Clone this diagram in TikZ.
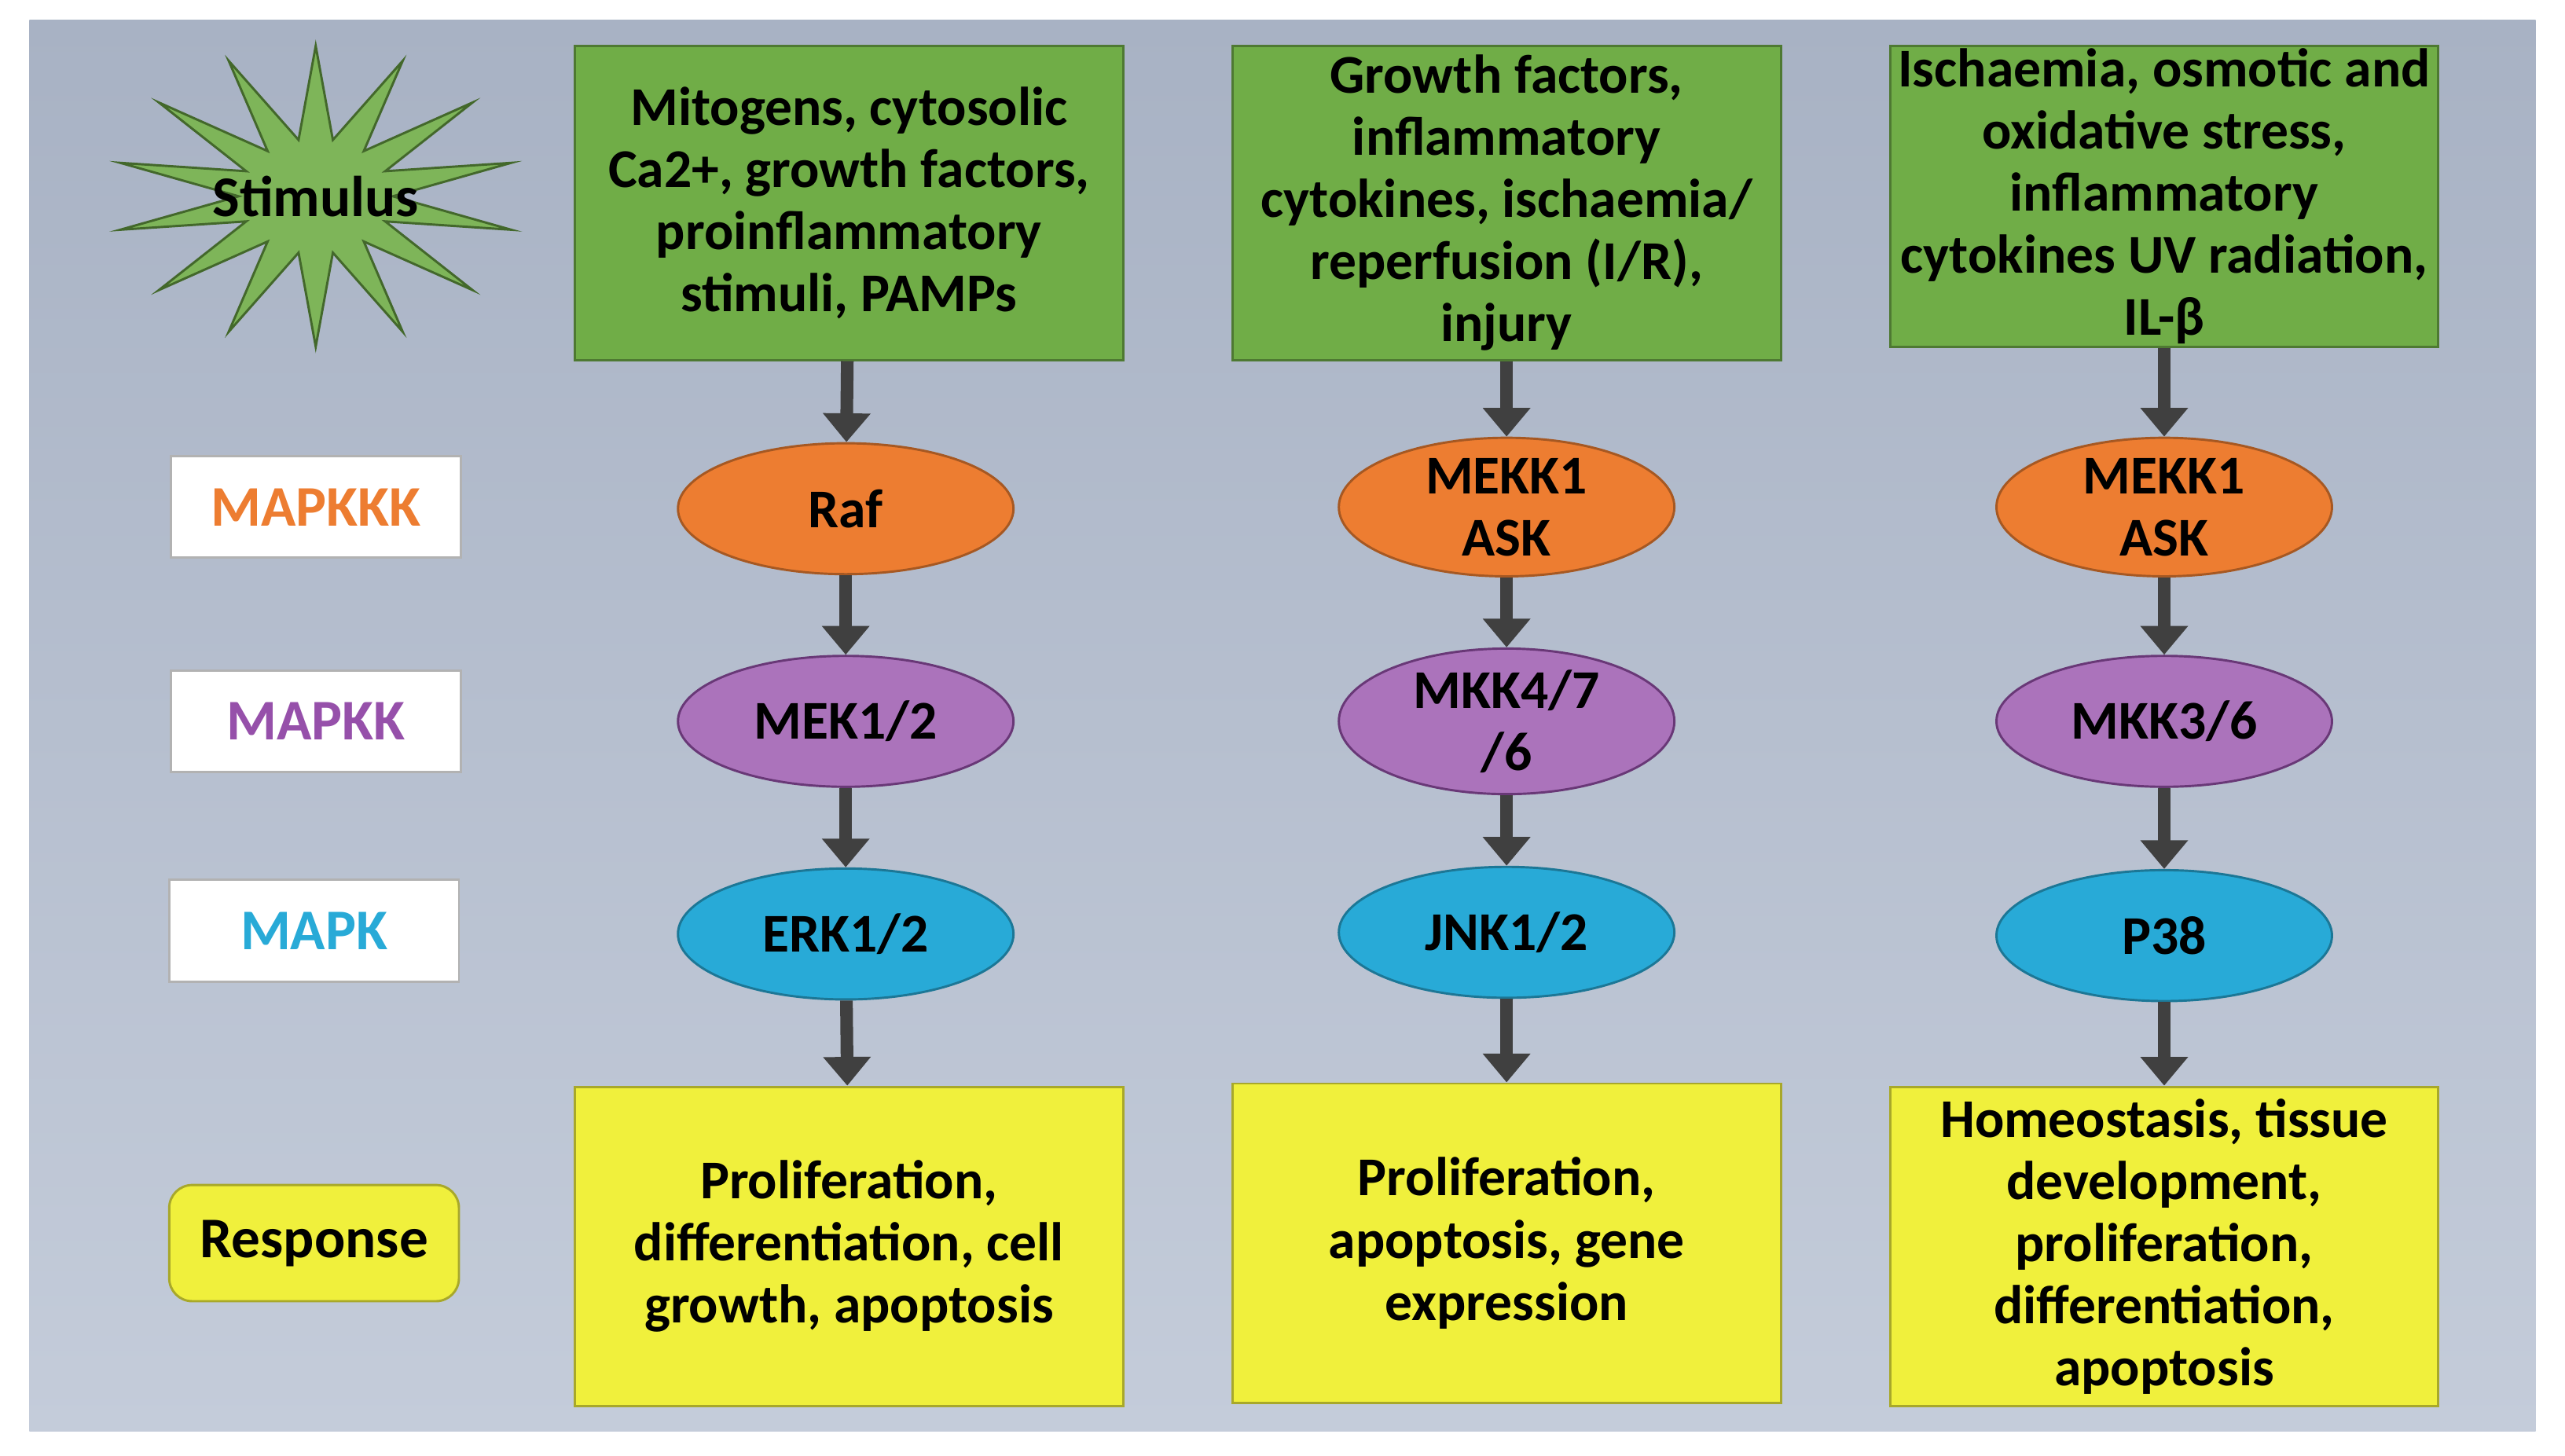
\documentclass[tikz,border=0pt]{standalone}
\usepackage{fontspec}
\setmainfont{Carlito}
\usetikzlibrary{shapes.geometric, arrows.meta}
\definecolor{bgtop}{RGB}{168,178,196}
\definecolor{bgbot}{RGB}{196,204,218}
\definecolor{boxgreen}{RGB}{112,173,71}
\definecolor{kkkorange}{RGB}{237,125,49}
\definecolor{kkpurple}{RGB}{150,80,170}
\definecolor{kblue}{RGB}{40,170,215}
\definecolor{respyellow}{RGB}{240,240,60}
\tikzset{
	txt/.style={font=\bfseries\fontsize{9.5}{10.8}\selectfont, align=center, text=black},
	stim/.style={txt, draw=boxgreen!70!black, fill=boxgreen, minimum width=3.35cm, minimum height=1.92cm, inner sep=0pt},
	resp/.style={stim, draw=respyellow!70!black, fill=respyellow, minimum height=1.95cm},
	kin/.style={txt, ellipse, minimum width=2.05cm, minimum height=0.8cm, inner sep=0pt},
	kkk/.style={kin, fill=kkkorange, draw=kkkorange!70!black},
	kk/.style={kin, fill=kkpurple!80!white, draw=kkpurple!70!black},
	k/.style={kin, fill=kblue, draw=kblue!70!black},
	tag/.style={txt, fill=white, draw=gray!60, minimum width=1.77cm, minimum height=0.62cm, font=\bfseries\fontsize{10}{12}\selectfont},
	cascade/.style={line width=2.2pt, draw=black!75, -{Triangle[length=5pt, width=8pt]}}
}
\begin{document}
\begin{tikzpicture}[x=0.01cm, y=-0.01cm]
	\useasboundingbox (0,0) rectangle (1568,890);
	\shade[top color=bgtop, bottom color=bgbot] (18,12) rectangle (1550,875);

	% legend column
	\node (star) [star, star points=14, star point ratio=2.6, fill=boxgreen!90!white, draw=boxgreen!60!black,
		minimum size=2.45cm, yscale=0.75] at (193,120) {};
	\node (stimlabel) [txt, font=\bfseries\fontsize{10}{12}\selectfont] at (193,120) {Stimulus};
	\node (lkkk) [tag, text=kkkorange] at (193,310) {MAPKKK};
	\node (lkk) [tag, text=kkpurple] at (193,441) {MAPKK};
	\node (lk) [tag, text=kblue] at (192,569) {MAPK};
	\node (lresp) [tag, fill=respyellow, draw=respyellow!70!black, rounded corners=4pt, minimum height=0.71cm] at (192,760) {Response};

	% ERK pathway
	\node (s1) [stim] at (519,124) {Mitogens, cytosolic\\Ca2+, growth factors,\\proinflammatory\\stimuli, PAMPs};
	\node (raf) [kkk] at (517,311) {Raf};
	\node (mek) [kk] at (517,441) {MEK1/2};
	\node (erk) [k] at (517,571) {ERK1/2};
	\node (r1) [resp] at (519,762) {Proliferation,\\differentiation, cell\\growth, apoptosis};

	% JNK pathway
	\node (s2) [stim] at (921,124) {Growth factors,\\inflammatory\\cytokines, ischaemia/\\reperfusion (I/R),\\injury};
	\node (mekk2) [kkk] at (921,310) {MEKK1\\ASK};
	\node (mkk47) [kk] at (921,441) {MKK4/7\\/6};
	\node (jnk) [k] at (921,570) {JNK1/2};
	\node (r2) [resp] at (921,760) {Proliferation,\\apoptosis, gene\\expression};

	% p38 pathway
	\node (s3) [stim, minimum height=1.84cm] at (1323,120) {Ischaemia, osmotic and\\oxidative stress,\\inflammatory\\cytokines UV radiation,\\IL-β};
	\node (mekk3) [kkk] at (1323,310) {MEKK1\\ASK};
	\node (mkk36) [kk] at (1323,441) {MKK3/6};
	\node (p38) [k] at (1323,572) {P38};
	\node (r3) [resp] at (1323,762) {Homeostasis, tissue\\development,\\proliferation,\\differentiation,\\apoptosis};

	\foreach \a/\b in {s1/raf, raf/mek, mek/erk, erk/r1, s2/mekk2, mekk2/mkk47, mkk47/jnk, jnk/r2, s3/mekk3, mekk3/mkk36, mkk36/p38, p38/r3}
		\draw [cascade] (\a) -- (\b);
\end{tikzpicture}
\end{document}
